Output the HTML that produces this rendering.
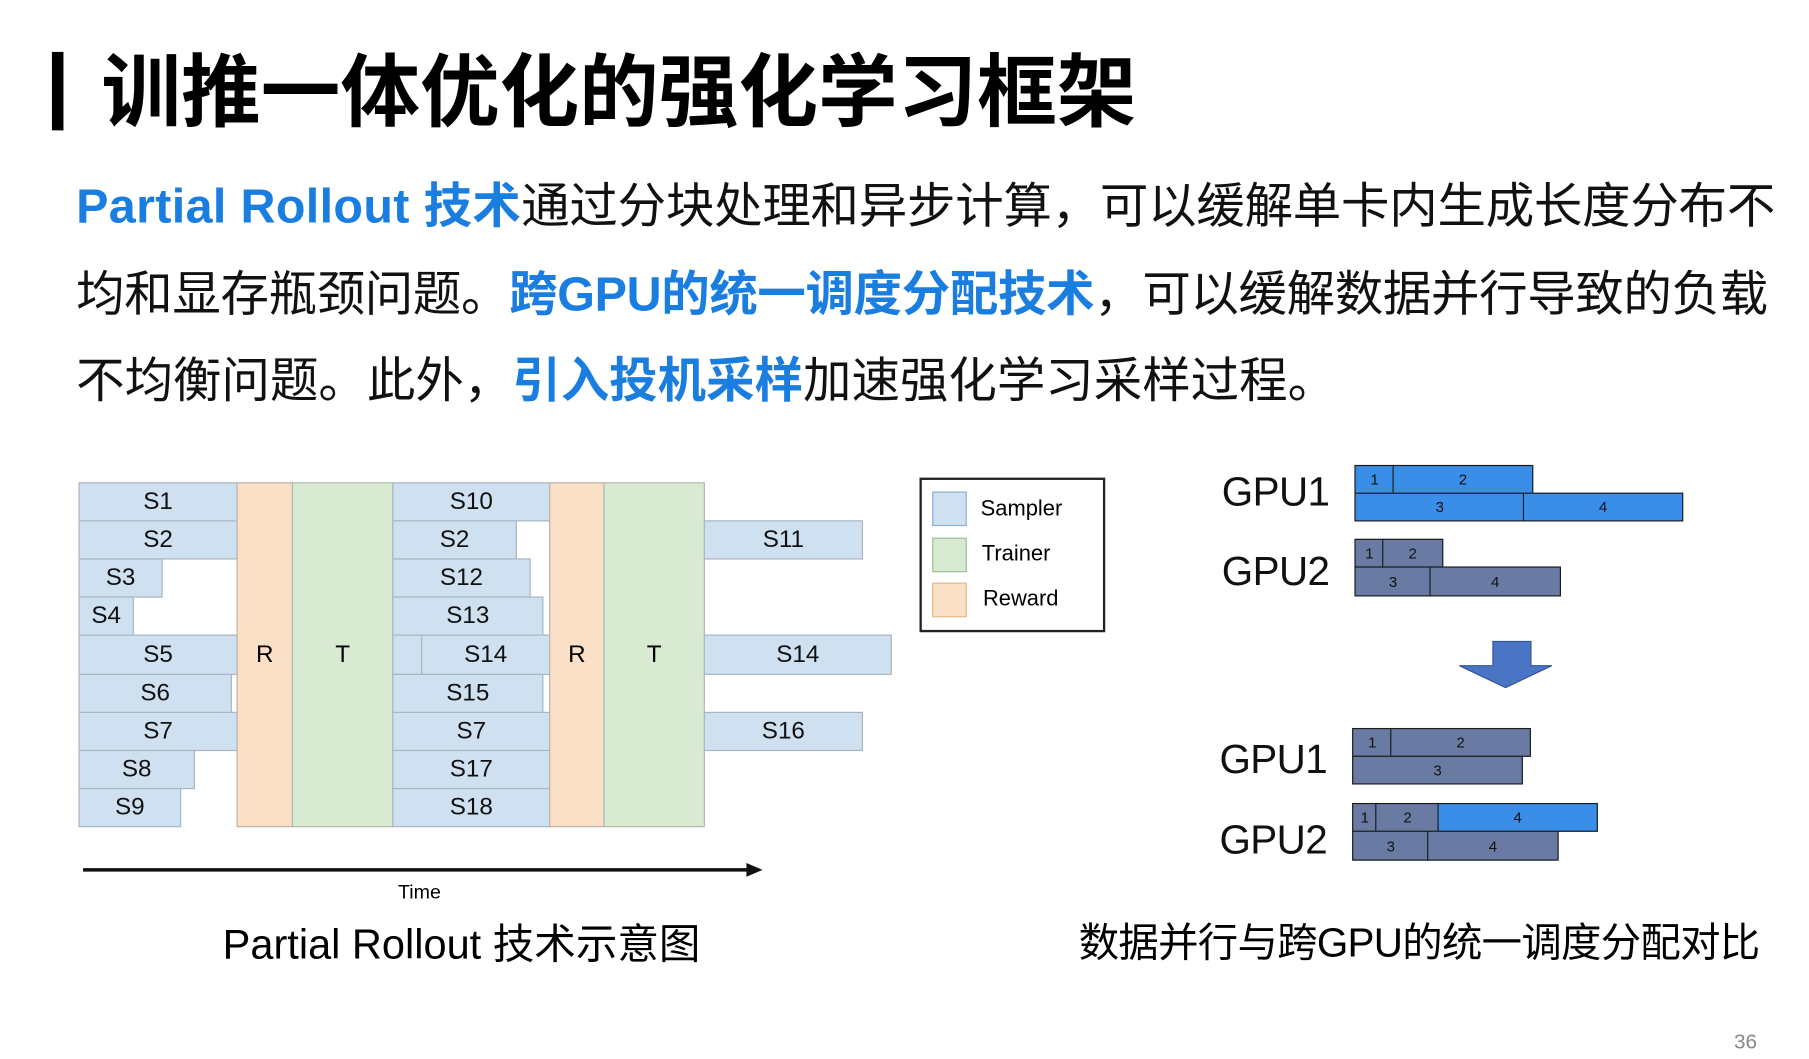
<!DOCTYPE html>
<html><head><meta charset="utf-8"><style>
html,body{margin:0;padding:0;background:#fff;overflow:hidden}
body{width:1809px;height:1059px}
#c{position:absolute;left:0;top:0;width:1568px;height:918px;transform:scale(1.15370);transform-origin:0 0;font-family:"Liberation Sans","Noto Sans CJK SC",sans-serif}
.a{position:absolute}
.s{position:absolute;background:#cfe0f0;border:1.5px solid #a8b4c0;box-sizing:border-box;display:flex;align-items:center;justify-content:center;font-size:21px;color:#111;font-family:"Liberation Sans",sans-serif}
.r{position:absolute;background:#fbe0c8;border:1.5px solid #b9b0a8;box-sizing:border-box;display:flex;align-items:center;justify-content:center;font-size:21px}
.t{position:absolute;background:#d9ead3;border:1.5px solid #b0b8ae;box-sizing:border-box;display:flex;align-items:center;justify-content:center;font-size:21px}
.g{position:absolute;box-sizing:border-box;border:1.5px solid #1a1a1a;display:flex;align-items:center;justify-content:center;font-size:13px;color:#111;font-family:"Liberation Sans",sans-serif}
.b{background:#3a8ee8}.d{background:#6a7ba3}
.gl{position:absolute;font-size:35px;font-family:"Liberation Sans",sans-serif;color:#111;line-height:1;letter-spacing:-0.5px}
.line{position:absolute;left:66px;font-size:42px;line-height:1;white-space:nowrap;color:#111}
.bl{color:#1a7de0;font-weight:bold}
</style></head><body><div id="c">
<div class="a" style="left:45px;top:45px;width:10px;height:68px;background:#000"></div>
<div class="a" style="left:88px;top:40px;font-size:69px;font-weight:bold;line-height:1;white-space:nowrap;font-family:'Noto Sans CJK SC',sans-serif">训推一体优化的强化学习框架</div>
<div class="line" style="top:158px;letter-spacing:-0.2px"><span class="bl" style="letter-spacing:0.3px">Partial Rollout 技术</span>通过分块处理和异步计算，可以缓解单卡内生成长度分布不</div>
<div class="line" style="top:234px;letter-spacing:-0.3px">均和显存瓶颈问题。<span class="bl">跨GPU的统一调度分配技术</span>，可以缓解数据并行导致的负载</div>
<div class="line" style="top:309px">不均衡问题。此外，<span class="bl">引入投机采样</span>加速强化学习采样过程。</div>

<div class="s" style="left:68px;top:418px;width:138px;height:34px">S1</div>
<div class="s" style="left:68px;top:451px;width:138px;height:34px">S2</div>
<div class="s" style="left:68px;top:484px;width:73px;height:34px">S3</div>
<div class="s" style="left:68px;top:517px;width:48px;height:34px">S4</div>
<div class="s" style="left:68px;top:550px;width:138px;height:35px">S5</div>
<div class="s" style="left:68px;top:584px;width:133px;height:34px">S6</div>
<div class="s" style="left:68px;top:617px;width:138px;height:34px">S7</div>
<div class="s" style="left:68px;top:650px;width:101px;height:34px">S8</div>
<div class="s" style="left:68px;top:683px;width:89px;height:34px">S9</div>
<div class="r" style="left:205px;top:418px;width:49px;height:299px">R</div>
<div class="t" style="left:253px;top:418px;width:88px;height:299px">T</div>
<div class="s" style="left:340px;top:418px;width:137px;height:34px">S10</div>
<div class="s" style="left:340px;top:451px;width:108px;height:34px">S2</div>
<div class="s" style="left:340px;top:484px;width:120px;height:34px">S12</div>
<div class="s" style="left:340px;top:517px;width:131px;height:34px">S13</div>
<div class="s" style="left:340px;top:550px;width:26px;height:35px"></div>
<div class="s" style="left:365px;top:550px;width:112px;height:35px">S14</div>
<div class="s" style="left:340px;top:584px;width:131px;height:34px">S15</div>
<div class="s" style="left:340px;top:617px;width:137px;height:34px">S7</div>
<div class="s" style="left:340px;top:650px;width:137px;height:34px">S17</div>
<div class="s" style="left:340px;top:683px;width:137px;height:34px">S18</div>
<div class="r" style="left:476px;top:418px;width:48px;height:299px">R</div>
<div class="t" style="left:523px;top:418px;width:88px;height:299px">T</div>
<div class="s" style="left:610px;top:451px;width:138px;height:34px">S11</div>
<div class="s" style="left:610px;top:550px;width:163px;height:35px">S14</div>
<div class="s" style="left:610px;top:617px;width:138px;height:34px">S16</div>
<svg class="a" style="left:0;top:0" width="800" height="800"><line x1="72" y1="754" x2="648" y2="754" stroke="#111" stroke-width="3"/><polygon points="647,748 661,754 647,760" fill="#111"/></svg>
<div class="a" style="left:345px;top:764px;font-size:17px;font-family:'Liberation Sans',sans-serif">Time</div>

<div class="a" style="left:797px;top:414px;width:161px;height:134px;border:2.5px solid #222;box-sizing:border-box"></div>
<div class="a" style="left:808px;top:426px;width:30px;height:30px;background:#cfe0f0;border:1.5px solid #8aaed8;box-sizing:border-box"></div>
<div class="a" style="left:808px;top:466px;width:30px;height:30px;background:#d9ead3;border:1.5px solid #9cc090;box-sizing:border-box"></div>
<div class="a" style="left:808px;top:505px;width:30px;height:30px;background:#fbe0c8;border:1.5px solid #e8b888;box-sizing:border-box"></div>
<div class="a" style="left:850px;top:431px;font-size:19px;font-family:'Liberation Sans',sans-serif">Sampler</div>
<div class="a" style="left:851px;top:470px;font-size:19px;font-family:'Liberation Sans',sans-serif">Trainer</div>
<div class="a" style="left:852px;top:509px;font-size:19px;font-family:'Liberation Sans',sans-serif">Reward</div>

<div class="gl" style="left:1059px;top:409px">GPU1</div>
<div class="gl" style="left:1059px;top:478px">GPU2</div>
<div class="gl" style="left:1057px;top:641px">GPU1</div>
<div class="gl" style="left:1057px;top:711px">GPU2</div>
<div class="g b" style="left:1174px;top:403px;width:35px;height:25px">1</div>
<div class="g b" style="left:1207px;top:403px;width:122px;height:25px">2</div>
<div class="g b" style="left:1174px;top:427px;width:148px;height:25px">3</div>
<div class="g b" style="left:1320px;top:427px;width:139px;height:25px">4</div>
<div class="g d" style="left:1174px;top:467px;width:26px;height:25px">1</div>
<div class="g d" style="left:1198px;top:467px;width:53px;height:25px">2</div>
<div class="g d" style="left:1174px;top:491px;width:67px;height:26px">3</div>
<div class="g d" style="left:1239px;top:491px;width:114px;height:26px">4</div>
<svg class="a" style="left:1260px;top:550px" width="100" height="60"><polygon points="34,6 67,6 67,27 85,27 45,46 5,27 34,27" fill="#4a74c4" stroke="#2f5597" stroke-width="1"/></svg>
<div class="g d" style="left:1172px;top:631px;width:35px;height:25px">1</div>
<div class="g d" style="left:1205px;top:631px;width:122px;height:25px">2</div>
<div class="g d" style="left:1172px;top:655px;width:148px;height:25px">3</div>
<div class="g d" style="left:1172px;top:696px;width:22px;height:25px">1</div>
<div class="g d" style="left:1192px;top:696px;width:56px;height:25px">2</div>
<div class="g b" style="left:1246px;top:696px;width:139px;height:25px">4</div>
<div class="g d" style="left:1172px;top:720px;width:67px;height:26px">3</div>
<div class="g d" style="left:1237px;top:720px;width:114px;height:26px">4</div>

<div class="a" style="left:193px;top:797px;font-size:36px;line-height:1.2;white-space:nowrap">Partial Rollout 技术示意图</div>
<div class="a" style="left:935px;top:797px;font-size:35px;line-height:1.2;white-space:nowrap;letter-spacing:-0.6px">数据并行与跨GPU的统一调度分配对比</div>
<div class="a" style="left:1503px;top:893px;font-size:18px;color:#888">36</div>
</div></body></html>
